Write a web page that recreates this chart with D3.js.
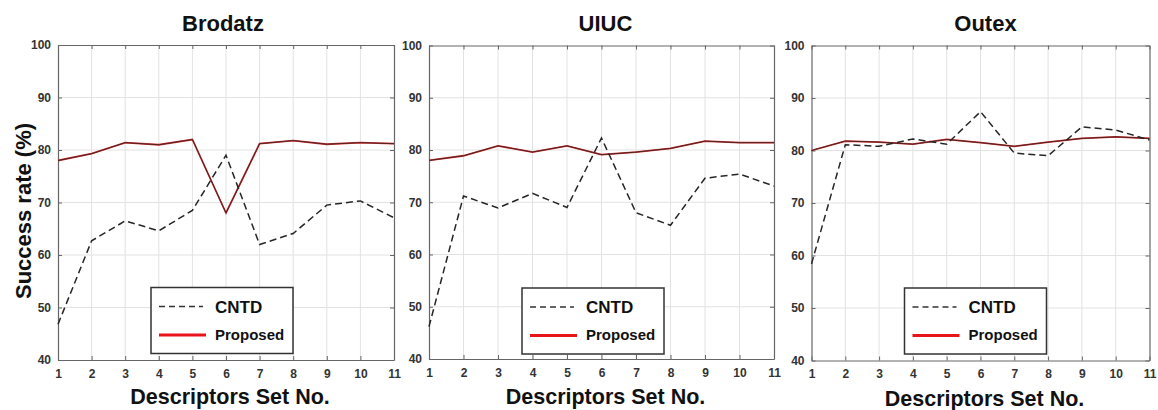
<!DOCTYPE html>
<html>
<head>
<meta charset="utf-8">
<title>Success rate per descriptors set</title>
<style>
  body { margin: 0; background: #fff; }
  svg { display: block; font-family: Arial, "Liberation Sans", sans-serif; }
  .grid line { stroke: #e2e2e2; stroke-width: 1; }
  .tick-label { font-family: Arial, "Liberation Sans", sans-serif; font-size: 12px; font-weight: bold; fill: #333; }
</style>
</head>
<body>
<svg id="chart" width="1158" height="410"></svg>
<script src="https://cdnjs.cloudflare.com/ajax/libs/d3/7.8.5/d3.min.js"></script>
<script>
// values
const sets = [1, 2, 3, 4, 5, 6, 7, 8, 9, 10, 11];
const yTicks = [40, 50, 60, 70, 80, 90, 100];
const titles = ['Brodatz', 'UIUC', 'Outex'];
const seriesNames = ['CNTD', 'Proposed'];

const brodatzCNTD     = [46.8, 62.7, 66.5, 64.6, 68.5, 79.0, 62.0, 64.1, 69.5, 70.3, 67.1];
const brodatzProposed = [78.0, 79.3, 81.4, 81.0, 82.0, 68.0, 81.2, 81.8, 81.1, 81.4, 81.2];
const uiucCNTD        = [46.2, 71.2, 68.9, 71.7, 69.0, 82.3, 68.0, 65.6, 74.6, 75.4, 73.1];
const uiucProposed    = [78.0, 78.9, 80.8, 79.6, 80.8, 79.1, 79.6, 80.3, 81.7, 81.4, 81.4];
const outexCNTD       = [58.4, 81.1, 80.8, 82.2, 81.2, 87.4, 79.5, 79.0, 84.5, 83.9, 82.0];
const outexProposed   = [80.0, 81.8, 81.6, 81.2, 82.1, 81.5, 80.8, 81.6, 82.3, 82.6, 82.3];

const panelData = [
  [brodatzCNTD, brodatzProposed],
  [uiucCNTD, uiucProposed],
  [outexCNTD, outexProposed]
];

// plot boxes in page pixels
const boxes = [
  { left: 58,    right: 394,    top: 45,   bottom: 360,   xlab: 404, titleDx: -3 },
  { left: 429,   right: 774,    top: 45.5, bottom: 359,   xlab: 404, titleDx: 4 },
  { left: 811.5, right: 1149.5, top: 45.5, bottom: 360.5, xlab: 405.5, titleDx: 5 }
];

const svg = d3.select('#chart');

boxes.forEach((b, i) => {
  const x = d3.scaleLinear().domain([1, 11]).range([b.left, b.right]);
  const y = d3.scaleLinear().domain([40, 100]).range([b.bottom, b.top]);
  const g = svg.append('g');

  // grid
  const grid = g.append('g').attr('class', 'grid');
  grid.selectAll('.gx').data(sets.slice(1, -1)).enter().append('line')
    .attr('x1', d => x(d)).attr('x2', d => x(d))
    .attr('y1', b.top).attr('y2', b.bottom);
  grid.selectAll('.gy').data(yTicks.slice(1, -1)).enter().append('line')
    .attr('x1', b.left).attr('x2', b.right)
    .attr('y1', d => y(d)).attr('y2', d => y(d));

  // axes with inner ticks on all four sides (matlab box)
  g.append('g').attr('transform', `translate(0,${b.bottom})`)
    .call(d3.axisBottom(x).tickValues(sets).tickSizeInner(-4).tickSizeOuter(0).tickPadding(9));
  g.append('g').attr('transform', `translate(0,${b.top})`)
    .call(d3.axisTop(x).tickValues(sets).tickSizeInner(-4).tickSizeOuter(0).tickFormat(''));
  g.append('g').attr('transform', `translate(${b.left},0)`)
    .call(d3.axisLeft(y).tickValues(yTicks).tickSizeInner(-4).tickSizeOuter(0).tickPadding(7));
  g.append('g').attr('transform', `translate(${b.right},0)`)
    .call(d3.axisRight(y).tickValues(yTicks).tickSizeInner(-4).tickSizeOuter(0).tickFormat(''));
  g.selectAll('.domain').attr('stroke', '#666').attr('stroke-width', 1.2);
  g.selectAll('.tick line').attr('stroke', '#666');
  g.selectAll('.tick text').attr('class', 'tick-label');

  // lines
  const line = d3.line().x((d, k) => x(sets[k])).y(d => y(d));
  const [cntd, prop] = panelData[i];
  g.append('path').attr('d', line(prop)).attr('fill', 'none')
    .attr('stroke', '#d42a2a').attr('stroke-width', 1.8);
  g.append('path').attr('d', line(prop)).attr('fill', 'none')
    .attr('stroke', '#3b2424').attr('stroke-width', 0.9);
  g.append('path').attr('d', line(cntd)).attr('fill', 'none')
    .attr('stroke', '#262626').attr('stroke-width', 1.5)
    .attr('stroke-dasharray', '7,4');

  // title
  svg.append('text')
    .attr('x', (b.left + b.right) / 2 + b.titleDx).attr('y', 31)
    .attr('text-anchor', 'middle')
    .style('font-size', '22px').style('font-weight', 'bold').style('fill', '#111')
    .text(titles[i]);

  // x label
  svg.append('text')
    .attr('x', (b.left + b.right) / 2 + 4).attr('y', b.xlab)
    .attr('text-anchor', 'middle')
    .style('font-size', '21.5px').style('font-weight', 'bold').style('fill', '#111')
    .text('Descriptors Set No.');

  // legend
  const lx = b.left + 93, ly = b.top + 242.5;
  const lg = svg.append('g').attr('transform', `translate(${lx},${ly})`);
  lg.append('rect').attr('width', 142).attr('height', 66)
    .attr('fill', '#fff').attr('stroke', '#333').attr('stroke-width', 1.5);
  lg.append('line').attr('x1', 8).attr('x2', 52).attr('y1', 19).attr('y2', 19)
    .attr('stroke', '#333').attr('stroke-width', 1.4).attr('stroke-dasharray', '6,4');
  lg.append('text').attr('x', 64).attr('y', 25)
    .style('font-size', '17px').style('font-weight', 'bold').style('fill', '#111')
    .text(seriesNames[0]);
  lg.append('line').attr('x1', 8).attr('x2', 55).attr('y1', 47.5).attr('y2', 47.5)
    .attr('stroke', '#e8141a').attr('stroke-width', 3);
  lg.append('text').attr('x', 64).attr('y', 52)
    .style('font-size', '15px').style('font-weight', 'bold').style('fill', '#111')
    .text(seriesNames[1]);
});

// shared y label
svg.append('text')
  .attr('transform', 'translate(31,211) rotate(-90)')
  .attr('text-anchor', 'middle')
  .style('font-size', '22px').style('font-weight', 'bold').style('fill', '#111')
  .text('Success rate (%)');
</script>
</body>
</html>
